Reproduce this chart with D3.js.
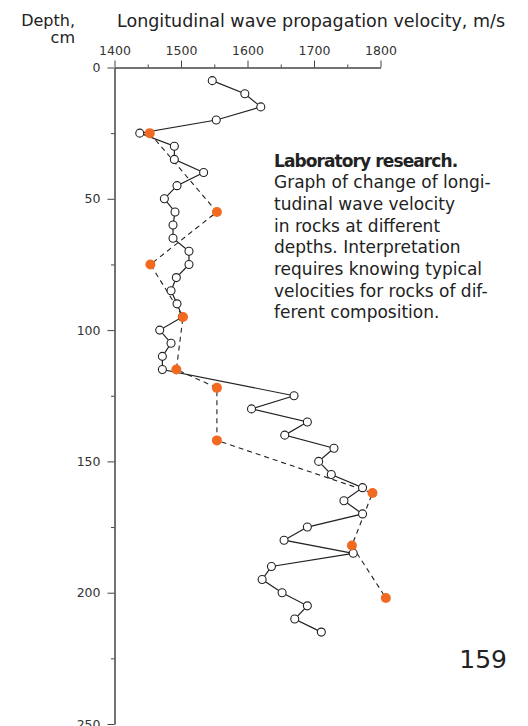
<!DOCTYPE html>
<html>
<head>
<meta charset="utf-8">
<script src="https://d3js.org/d3.v7.min.js"></script>
<style>
  body { margin: 0; background: #fff; }
  svg { font-family: "DejaVu Sans", sans-serif; }
</style>
</head>
<body>
<div id="chart"></div>
<script>
var width = 528;
var height = 726;

// measured points (solid line, open circles)
var labDepth = [5, 10, 15, 20, 25, 30, 35, 40, 45, 50, 55, 60, 65, 70, 75, 80, 85, 90, 95, 100,
                105, 110, 115, 125, 130, 135, 140, 145, 150, 155, 160, 165, 170, 175, 180, 185,
                190, 195, 200, 205, 210, 215];
var labVelocity = [1547, 1596, 1620, 1553, 1438, 1490, 1490, 1534, 1494, 1475, 1491, 1488, 1488, 1512, 1512, 1493, 1485, 1494, 1502, 1468,
                   1485, 1472, 1472, 1670, 1606, 1690, 1656, 1730, 1707, 1726, 1773, 1745, 1773, 1690, 1655, 1759,
                   1636, 1622, 1652, 1690, 1671, 1711];

// typical values (dashed line, orange dots)
var refDepth = [25, 55, 75, 95, 115, 122, 142, 162, 182, 202];
var refVelocity = [1453, 1554, 1454, 1503, 1493, 1554, 1554, 1788, 1757, 1808];

var xMajor = [1400, 1500, 1600, 1700, 1800];
var xMinor = [1450, 1550, 1650, 1750];
var yMajor = [0, 50, 100, 150, 200, 250];
var yMinor = [25, 75, 125, 175, 225];

var noteLines = [
  "Graph of change of longi-",
  "tudinal wave velocity",
  "in rocks at different",
  "depths. Interpretation",
  "requires knowing typical",
  "velocities for rocks of dif-",
  "ferent composition."
];

var x = d3.scaleLinear().domain([1400, 1800]).range([114.5, 380.5]);
var y = d3.scaleLinear().domain([0, 250]).range([67.5, 724]);

var svg = d3.select("#chart").append("svg")
  .attr("width", width)
  .attr("height", height);

// axes
function styleAxis(g) {
  g.select(".domain").attr("stroke", "#444");
  g.selectAll(".tick line").attr("stroke", "#444");
  g.selectAll(".tick text").attr("fill", "#333")
    .style("font-family", "'DejaVu Sans', sans-serif")
    .style("font-size", "12.5px");
}

svg.append("g")
  .attr("transform", "translate(0," + y(0) + ")")
  .call(d3.axisTop(x).tickValues(xMinor).tickSize(3).tickSizeOuter(0).tickFormat(""))
  .call(styleAxis);
svg.append("g")
  .attr("transform", "translate(0," + y(0) + ")")
  .call(d3.axisTop(x).tickValues(xMajor).tickSize(7).tickSizeOuter(0).tickPadding(6).tickFormat(d3.format("d")))
  .call(styleAxis);

svg.append("g")
  .attr("transform", "translate(" + x(1400) + ",0)")
  .call(d3.axisLeft(y).tickValues(yMinor).tickSize(3.5).tickSizeOuter(0).tickFormat(""))
  .call(styleAxis);
svg.append("g")
  .attr("transform", "translate(" + x(1400) + ",0)")
  .call(d3.axisLeft(y).tickValues(yMajor).tickSize(7).tickSizeOuter(0).tickPadding(7))
  .call(styleAxis);

// titles
svg.append("text").attr("x", 75).attr("y", 26).attr("text-anchor", "end")
  .attr("fill", "#222").style("font-size", "16px").text("Depth,");
svg.append("text").attr("x", 75).attr("y", 42.5).attr("text-anchor", "end")
  .attr("fill", "#222").style("font-size", "16px").text("cm");
svg.append("text").attr("x", 117).attr("y", 26.5)
  .attr("fill", "#222").style("font-size", "17.5px")
  .text("Longitudinal wave propagation velocity, m/s");

// lines
var refLine = d3.line().x((d, i) => x(refVelocity[i])).y(d => y(d));
var labLine = d3.line().x((d, i) => x(labVelocity[i])).y(d => y(d));

svg.append("path")
  .attr("d", refLine(refDepth))
  .attr("fill", "none")
  .attr("stroke", "#222")
  .attr("stroke-width", 1.1)
  .attr("stroke-dasharray", "5,4");

svg.append("path")
  .attr("d", labLine(labDepth))
  .attr("fill", "none")
  .attr("stroke", "#222")
  .attr("stroke-width", 1.2);

svg.selectAll("circle.lab")
  .data(labDepth)
  .enter()
  .append("circle")
  .attr("class", "lab")
  .attr("cx", (d, i) => x(labVelocity[i]))
  .attr("cy", d => y(d))
  .attr("r", 4)
  .attr("fill", "#fff")
  .attr("stroke", "#222")
  .attr("stroke-width", 1.1);

svg.selectAll("circle.ref")
  .data(refDepth)
  .enter()
  .append("circle")
  .attr("class", "ref")
  .attr("cx", (d, i) => x(refVelocity[i]))
  .attr("cy", d => y(d))
  .attr("r", 5)
  .attr("fill", "#f26a21");

// note
var note = svg.append("text")
  .attr("x", 274)
  .attr("y", 166.5)
  .attr("fill", "#222")
  .style("font-size", "17px");
note.append("tspan").attr("x", 274).attr("dy", 0)
  .style("font-weight", "bold").style("letter-spacing", "-0.9px")
  .text("Laboratory research.");
noteLines.forEach(function(l) {
  note.append("tspan").attr("x", 274).attr("dy", 21.7).text(l);
});

// page number
svg.append("text").attr("x", 507).attr("y", 668).attr("text-anchor", "end")
  .attr("fill", "#222").style("font-size", "25px").text("159");
</script>
</body>
</html>
